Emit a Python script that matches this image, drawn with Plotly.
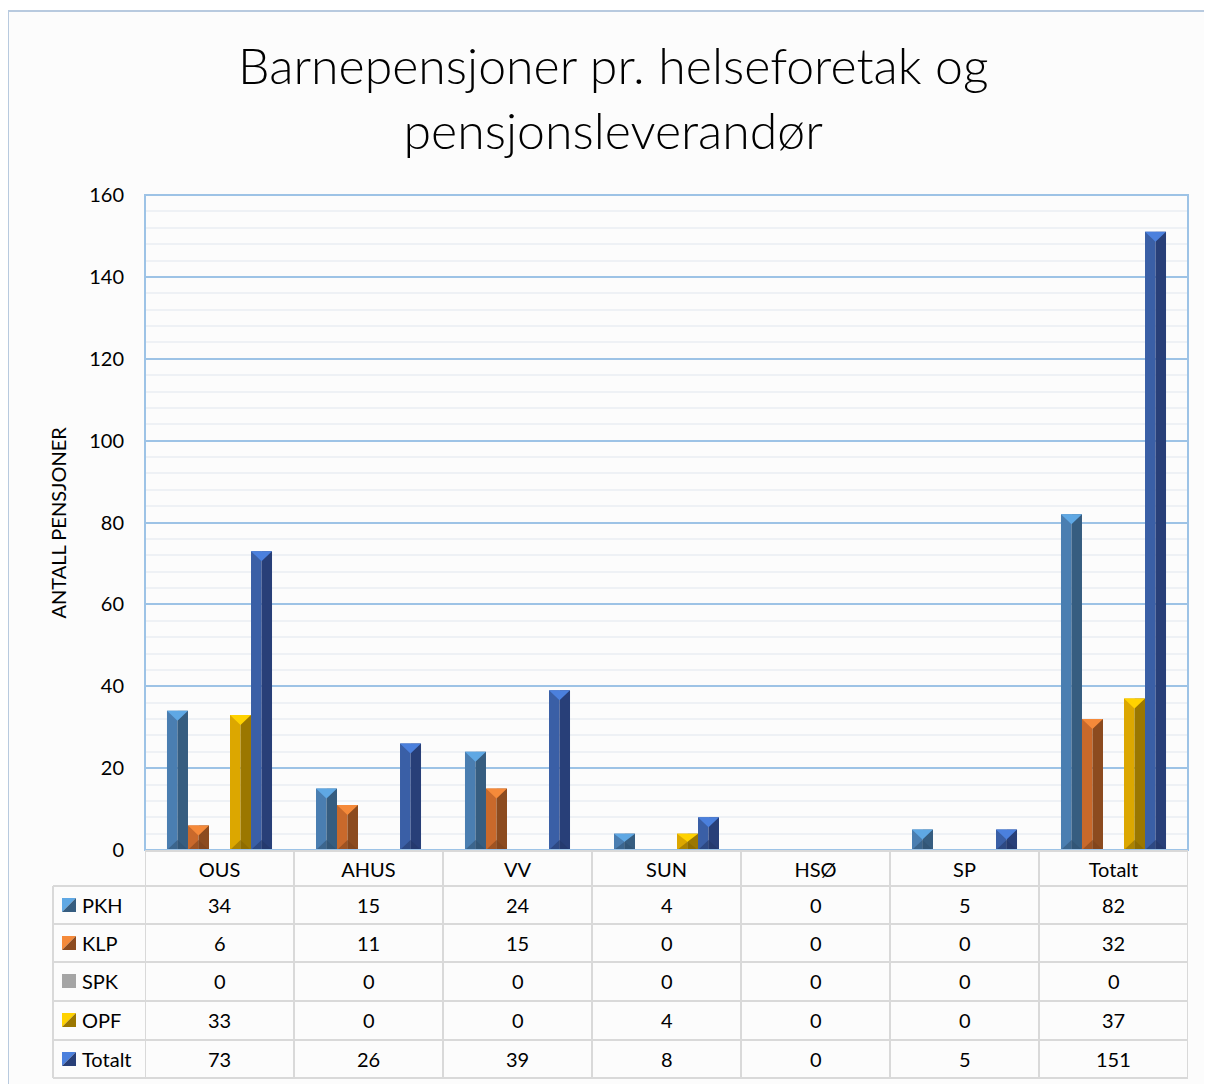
import plotly.graph_objects as go

# ---- data ----
categories = ["OUS", "AHUS", "VV", "SUN", "HSØ", "SP", "Totalt"]
series_names = ["PKH", "KLP", "SPK", "OPF", "Totalt"]
pkh = [34, 15, 24, 4, 0, 5, 82]
klp = [6, 11, 15, 0, 0, 0, 32]
spk = [0, 0, 0, 0, 0, 0, 0]
opf = [33, 0, 0, 4, 0, 0, 37]
totalt = [73, 26, 39, 8, 0, 5, 151]
y_ticks = [0, 20, 40, 60, 80, 100, 120, 140, 160]

series_values = [pkh, klp, spk, opf, totalt]

# colours: (left face, right face, top bevel, bottom bevel)
palette = [
    ("#4a7eb1", "#365d80", "#5fa8e4", "#2f5170"),
    ("#c9692b", "#8c4b1f", "#f58a3a", "#7a411b"),
    ("#a5a5a5", "#7c7c7c", "#c4c4c4", "#6c6c6c"),
    ("#dca700", "#9b7700", "#ffd200", "#846500"),
    ("#3a5fa6", "#283f78", "#4b80dd", "#233766"),
]

OFF = 8  # page body margin
W, H = 1204, 1076
L, T = 145 - OFF, 195 - OFF
PW, PH = 1043, 655
R = W - L - PW
B = H - T - PH
YMAX = 160

def py(p):  # screen pixel y -> paper y
    return (T + PH - (p - OFF)) / PH

def px(p):  # screen pixel x -> paper x
    return ((p - OFF) - L) / PW

xs = list(range(len(categories)))
nser = len(series_names)
bw = 0.141
start = -bw * nser / 2
bevel = 10 * YMAX / PH

fig = go.Figure()
for i, (name, vals) in enumerate(zip(series_names, series_values)):
    cl, cr, ct, cb = palette[i]
    off = start + i * bw
    fig.add_trace(go.Bar(x=xs, y=vals, offset=off, width=bw / 2,
                         marker=dict(color=cl, line=dict(width=0)),
                         name=name, showlegend=False, hoverinfo="skip"))
    fig.add_trace(go.Bar(x=xs, y=vals, offset=off + bw / 2, width=bw / 2,
                         marker=dict(color=cr, line=dict(width=0)),
                         name=name, showlegend=False, hoverinfo="skip"))
    tx, ty, bx, by = [], [], [], []
    for x, v in zip(xs, vals):
        if v <= 0:
            continue
        b = min(bevel, v / 2)
        x0, x1, xm = x + off, x + off + bw, x + off + bw / 2
        tx += [x0, x1, xm, x0, None]
        ty += [v, v, v - b, v, None]
        bx += [x0, x1, xm, x0, None]
        by += [0, 0, b, 0, None]
    if tx:
        fig.add_trace(go.Scatter(x=bx, y=by, mode="lines", fill="toself",
                                 fillcolor=cb, line=dict(width=0),
                                 showlegend=False, hoverinfo="skip", opacity=0.55))
        fig.add_trace(go.Scatter(x=tx, y=ty, mode="lines", fill="toself",
                                 fillcolor=ct, line=dict(width=0),
                                 showlegend=False, hoverinfo="skip"))

FONT = "Lato"
TS = 20
shapes = []
annotations = []

# outer chart frame
shapes.append(dict(type="rect", xref="paper", yref="paper",
                   x0=px(8), x1=px(1210), y0=py(11), y1=py(1110),
                   line=dict(color="#b8cadf", width=2), fillcolor="#fcfcfc",
                   layer="below"))
# plot frame
shapes.append(dict(type="rect", xref="paper", yref="paper", x0=0, x1=1, y0=0, y1=1,
                   line=dict(color="#9dc3e6", width=2)))

grid_col = "#d9d9d9"
row_lines = [886, 924, 962, 1001, 1040, 1078]
row_centers = [905, 943, 981, 1020, 1059]
# horizontal table lines
shapes.append(dict(type="line", xref="paper", yref="paper", x0=0, x1=1,
                   y0=py(851), y1=py(851), line=dict(color=grid_col, width=2)))
for r in row_lines:
    shapes.append(dict(type="line", xref="paper", yref="paper", x0=px(53), x1=1,
                       y0=py(r), y1=py(r), line=dict(color=grid_col, width=2)))
# vertical table lines
for k in range(len(categories) + 1):
    shapes.append(dict(type="line", xref="x", yref="paper", x0=k - 0.5, x1=k - 0.5,
                       y0=py(851), y1=py(1078), line=dict(color=grid_col, width=2)))
shapes.append(dict(type="line", xref="paper", yref="paper", x0=px(53), x1=px(53),
                   y0=py(886), y1=py(1078), line=dict(color=grid_col, width=2)))

# legend keys + labels + values
for i, (name, vals) in enumerate(zip(series_names, series_values)):
    cl, cr, ct, cb = palette[i]
    yc = row_centers[i]
    k0, k1 = 62, 76
    ya, yb = py(yc - 7), py(yc + 7)
    xa, xb = px(k0), px(k1)
    if name == "SPK":
        shapes.append(dict(type="rect", xref="paper", yref="paper", x0=xa, x1=xb,
                           y0=yb, y1=ya, fillcolor=cl, line=dict(width=0)))
    else:
        shapes.append(dict(type="path", xref="paper", yref="paper",
                           path=f"M {xa} {ya} L {xb} {ya} L {xa} {yb} Z",
                           fillcolor=ct, line=dict(width=0)))
        shapes.append(dict(type="path", xref="paper", yref="paper",
                           path=f"M {xb} {ya} L {xb} {yb} L {xa} {yb} Z",
                           fillcolor=cr, line=dict(width=0)))
    annotations.append(dict(text=name, xref="paper", yref="paper", x=px(80), y=py(yc),
                            xanchor="left", yanchor="middle", showarrow=False,
                            font=dict(family=FONT, size=TS, color="#000")))
    for x, v in zip(xs, vals):
        annotations.append(dict(text=str(v), xref="x", yref="paper", x=x, y=py(yc),
                                xanchor="center", yanchor="middle", showarrow=False,
                                font=dict(family=FONT, size=TS, color="#000")))

# title
annotations.append(dict(text="Barnepensjoner pr. helseforetak og<br>pensjonsleverandør",
                        xref="paper", yref="paper", x=px(613), y=py(98),
                        xanchor="center", yanchor="middle", showarrow=False,
                        font=dict(family=FONT, size=50, color="#000", weight=300)))
# y axis title
annotations.append(dict(text="ANTALL PENSJONER", xref="paper", yref="paper",
                        x=px(57), y=0.5, textangle=-90, xanchor="center",
                        yanchor="middle", showarrow=False,
                        font=dict(family=FONT, size=20, color="#000")))

fig.update_layout(
    width=W, height=H,
    margin=dict(l=L, r=R, t=T, b=B),
    paper_bgcolor="white",
    plot_bgcolor="#dce6f2",
    barmode="overlay",
    showlegend=False,
    shapes=shapes,
    annotations=annotations,
    xaxis=dict(range=[-0.5, len(categories) - 0.5], tickvals=xs, ticktext=categories,
               showgrid=False, zeroline=False, showline=False, ticks="",
               ticklabelstandoff=6,
               tickfont=dict(family=FONT, size=TS, color="#000")),
    yaxis=dict(range=[0, YMAX], tickvals=y_ticks, showgrid=True,
               gridcolor="#9dc3e6", gridwidth=2, zeroline=False, showline=False,
               ticks="", ticklabelstandoff=20,
               tickfont=dict(family=FONT, size=20, color="#000")),
)
fig.update_yaxes(minor=dict(dtick=4, showgrid=True, gridcolor="#eef1f5", gridwidth=2))

fig.write_html("out.html")
